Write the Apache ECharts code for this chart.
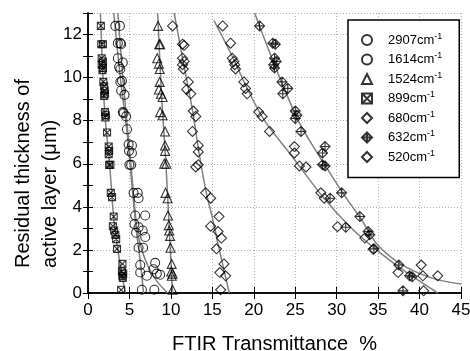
<!DOCTYPE html>
<html>
<head>
<meta charset="utf-8">
<script src="https://cdn.jsdelivr.net/npm/echarts@6/dist/echarts.min.js"></script>
<style>
  html, body { margin: 0; padding: 0; background: #fff; }
  #chart { width: 470px; height: 351px; }
</style>
</head>
<body>
<div id="chart"></div>
<script>
// wavenumbers shown in the legend (cm-1)
const names = ['2907', '1614', '1524', '899', '680', '632', '520'];

// measured points [transmittance %, thickness um]
const s2907 = [[3.3,12.4],[3.6,11.6],[3.6,10.9],[3.75,10.5],[3.9,9.8],[4.0,9.4],[4.3,8.35],[4.7,7.6],[4.9,6.9],[4.95,6.6],[5.0,5.95],[5.5,4.65],[5.7,3.6],[5.6,3.2],[5.8,2.8],[6.1,2.1],[6.3,1.3],[6.3,0.95],[6.5,0.15]];
const s1614 = [[3.85,12.4],[3.9,11.6],[4.0,11.55],[4.2,10.7],[3.9,10.4],[4.1,9.85],[4.4,9.2],[4.2,8.4],[4.6,8.2],[5.3,6.85],[5.3,6.5],[5.2,5.95],[6.0,4.65],[6.1,4.4],[6.9,3.6],[6.1,3.05],[6.6,2.9],[6.9,2.6],[6.65,2.1],[8.1,1.4],[7.9,1.1],[8.3,0.9],[8.7,0.85],[7.1,0.8],[8.0,0.15]];
const s1524 = [[8.45,12.4],[8.6,11.55],[8.7,11.55],[8.35,10.9],[8.55,10.65],[8.65,10.4],[8.65,9.8],[8.55,9.45],[8.8,9.25],[9.0,9.1],[8.7,8.4],[9.0,8.25],[9.3,7.5],[9.3,6.85],[9.3,6.6],[9.2,6.0],[9.45,6.0],[9.35,4.65],[9.6,4.4],[9.65,3.6],[9.75,3.15],[9.8,2.9],[9.9,2.65],[9.95,2.1],[10.1,1.35],[10.05,1.0],[10.2,0.9],[10.1,0.8],[10.2,0.15]];
const s899 = [[1.55,12.4],[1.6,11.55],[1.8,11.55],[1.65,10.9],[1.8,10.75],[1.65,10.6],[1.8,10.45],[1.75,10.35],[1.85,9.8],[1.95,9.6],[2.0,9.4],[2.05,9.25],[1.95,9.15],[2.05,8.4],[2.15,8.25],[2.1,8.15],[2.3,7.45],[2.5,6.8],[2.55,6.6],[2.5,6.45],[2.55,5.95],[2.7,5.95],[2.75,4.65],[2.9,4.45],[3.1,3.55],[3.0,3.1],[3.15,2.9],[3.3,2.7],[3.4,2.5],[3.5,2.05],[4.15,1.35],[4.1,1.0],[4.25,0.9],[4.15,0.8],[4.2,0.7],[4.0,0.15]];
const s680 = [[10.2,12.4],[11.4,11.55],[11.6,11.5],[11.4,10.9],[11.6,10.75],[11.4,10.6],[11.5,10.4],[12.1,9.8],[11.9,9.45],[12.4,9.25],[12.7,8.45],[13.0,8.2],[12.6,7.5],[13.3,6.85],[13.3,6.55],[13.3,5.95],[13.0,5.85],[14.2,4.65],[14.8,4.4],[15.8,3.55],[14.8,3.1],[15.7,2.85],[16.1,2.55],[15.5,2.05],[16.4,1.35],[15.9,0.95],[16.6,0.8],[16.0,0.15]];
const s632 = [[20.7,12.4],[22.3,11.6],[22.6,11.55],[22.5,10.9],[22.7,10.75],[22.4,10.6],[22.5,10.45],[23.4,9.8],[24.1,9.5],[23.5,9.25],[25.0,8.45],[25.2,8.25],[25.0,8.1],[25.7,7.5],[28.6,6.8],[28.3,6.5],[28.3,5.95],[28.6,5.9],[30.6,4.65],[29.2,4.4],[32.8,3.55],[31.1,3.05],[33.8,2.85],[34.0,2.7],[34.5,2.05],[37.5,1.3],[38.8,0.8],[39.1,0.75],[38.0,0.1]];
const s520 = [[16.25,12.4],[17.2,11.6],[17.4,10.9],[17.6,10.75],[17.7,10.6],[17.8,10.4],[18.8,9.8],[19.0,9.5],[19.2,9.25],[20.6,8.4],[21.0,8.2],[21.9,7.5],[24.9,6.8],[24.9,6.5],[25.5,5.9],[26.3,5.85],[28.1,4.65],[28.5,4.4],[30.1,3.08],[33.4,2.55],[34.4,2.03],[37.4,0.95],[40.2,1.3],[40.4,0.8],[42.2,0.8],[40.5,0.1]];

// fitted curves
const fit2907 = [[3.1,13],[3.9,10],[4.7,7.5],[5.3,5],[5.8,3],[6.3,1.5],[6.7,0]];
const fit1614 = [[3.6,13],[4.2,10],[4.8,7.5],[5.4,5],[5.9,3],[6.5,2],[7.3,1.2],[8.3,0.55],[9.6,0]];
const fit1524 = [[8.4,13],[8.9,9],[9.4,6],[9.8,3],[10.2,0]];
const fit899 = [[1.5,13],[2.0,8.5],[2.6,6],[3.1,3.5],[3.6,2],[4.5,0]];
const fit680 = [[10.4,13],[11.6,10.5],[12.6,8.5],[13.4,6.5],[14.3,4.6],[15.0,3.5],[15.85,2],[17.05,0]];
const fit632 = [[20.1,13],[22.6,10.5],[25.3,8.05],[26.7,7.1],[28.7,5.87],[30.75,4.64],[33.0,3.4],[34.8,2.3],[37.6,1.38],[41.6,0.68],[45,0.42]];
const fit520 = [[15.2,12.65],[17.4,11],[19.2,9.5],[21.3,8],[24.3,6.5],[28.3,4.48],[31.6,3.08],[34.8,2.0],[38.0,1.07],[42.2,0]];

const font = 'Liberation Sans';
const crossSquare = 'path://M0,0L10,0L10,10L0,10Z M0,0L10,10 M10,0L0,10';
const crossDiamond = 'path://M5,0L10,5L5,10L0,5Z M5,0L5,10 M0,5L10,5';

const chart = echarts.init(document.getElementById('chart'));

function pts(name, data, symbol, size) {
  return {
    name: name,
    type: 'scatter',
    data: data,
    symbol: symbol,
    symbolSize: size,
    symbolKeepAspect: true,
    itemStyle: { color: 'rgba(0,0,0,0)', borderColor: '#000', borderWidth: 1.1 },
    z: 3
  };
}
function fit(name, data) {
  return {
    name: name,
    type: 'line',
    data: data,
    showSymbol: false,
    smooth: 0.3,
    lineStyle: { color: '#808080', width: 1.5 },
    z: 2
  };
}

const gridLine = { show: true, lineStyle: { color: '#b0b0b0', type: [1, 2], width: 1 } };
const frame = { show: true, lineStyle: { color: '#000', width: 1.5 } };

chart.setOption({
  animation: false,
  grid: { left: 88, right: 9, top: 13, bottom: 58, outerBoundsMode: 'none' },
  legend: {
    orient: 'vertical',
    left: 348,
    top: 20,
    padding: [12, 17, 14, 13],
    itemWidth: 10,
    itemHeight: 10,
    itemGap: 5,
    symbolKeepAspect: true,
    borderColor: '#000',
    borderWidth: 1.5,
    backgroundColor: '#fff',
    data: names,
    formatter: n => '{a|' + n + 'cm}{b|-1}',
    textStyle: {
      rich: {
        a: { fontFamily: font, fontSize: 13, color: '#000', lineHeight: 16, padding: [0, 0, 0, 11] },
        b: { fontFamily: font, fontSize: 9, color: '#000', padding: [0, 0, 7, 0] }
      }
    }
  },
  xAxis: [
    {
      type: 'value', min: 0, max: 45, interval: 5, position: 'bottom',
      name: 'FTIR Transmittance  %', nameLocation: 'middle', nameGap: 41,
      nameTextStyle: { fontFamily: font, fontSize: 20, color: '#000' },
      axisLine: frame,
      axisTick: { show: true, inside: true, length: 6, lineStyle: { color: '#000' } },
      axisLabel: { fontFamily: font, fontSize: 17, color: '#000', margin: 9 },
      splitLine: gridLine
    },
    {
      type: 'value', min: 0, max: 45, interval: 5, position: 'top',
      axisLine: frame,
      axisTick: { show: true, inside: true, length: 6, lineStyle: { color: '#000' } },
      axisLabel: { show: false },
      splitLine: { show: false }
    }
  ],
  yAxis: [
    {
      type: 'value', min: 0, max: 13, interval: 1, position: 'left',
      axisLine: frame,
      axisTick: { show: true, inside: true, length: 5, lineStyle: { color: '#000' } },
      axisLabel: {
        fontFamily: font, fontSize: 17, color: '#000', margin: 6,
        formatter: v => (v % 2 === 0 ? String(v) : '')
      },
      splitLine: { show: false }
    },
    {
      type: 'value', min: 0, max: 13, interval: 1, position: 'right',
      axisLine: frame,
      axisTick: { show: true, inside: true, length: 5, lineStyle: { color: '#000' } },
      axisLabel: { show: false },
      splitLine: { show: false }
    },
    {
      // only for the dotted grid at every 2 um
      type: 'value', min: 0, max: 13, interval: 2, position: 'left',
      axisLine: { show: false }, axisTick: { show: false }, axisLabel: { show: false },
      splitLine: gridLine
    }
  ],
  graphic: [{
    type: 'text',
    x: 37,
    y: 268,
    rotation: Math.PI / 2,
    style: {
      text: 'Residual thickness of\nactive layer (\u03bcm)',
      font: '20px "Liberation Sans"',
      fill: '#000',
      textAlign: 'left',
      textVerticalAlign: 'middle',
      lineHeight: 27
    }
  }],
  series: [
    fit('fit2907', fit2907),
    fit('fit1614', fit1614),
    fit('fit1524', fit1524),
    fit('fit899', fit899),
    fit('fit680', fit680),
    fit('fit632', fit632),
    fit('fit520', fit520),
    pts('2907', s2907, 'circle', 9),
    pts('1614', s1614, 'circle', 9),
    pts('1524', s1524, 'triangle', 9),
    pts('899', s899, crossSquare, 7),
    pts('680', s680, 'diamond', 10),
    pts('632', s632, crossDiamond, 10),
    pts('520', s520, 'diamond', 10)
  ]
});
</script>
</body>
</html>
